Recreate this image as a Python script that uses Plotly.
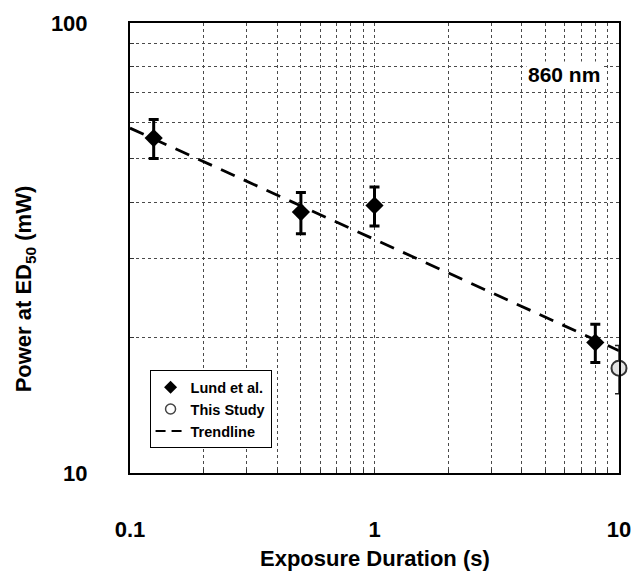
import plotly.graph_objects as go

# Data
lund_t = [0.125, 0.5, 1.0, 8.0]
lund_p = [55.5, 38.0, 39.3, 19.5]
lund_err = [5.5, 4.0, 3.9, 1.9]

study_t = [10.0]
study_p = [17.1]
study_err = [2.1]

trend_t = [0.1, 10.0]
trend_p = [58.4, 18.7]

x_tickvals = [0.1, 0.2, 0.3, 0.4, 0.5, 0.6, 0.7, 0.8, 0.9, 1, 2, 3, 4, 5, 6, 7, 8, 9, 10]
x_ticktext = ["0.1", "", "", "", "", "", "", "", "", "1", "", "", "", "", "", "", "", "", "10"]
y_tickvals = [10, 20, 30, 40, 50, 60, 70, 80, 90, 100]
y_ticktext = ["10", "", "", "", "", "", "", "", "", "100"]

FONT = "Arial, Liberation Sans, sans-serif"

fig = go.Figure()

fig.add_trace(go.Scatter(
    x=trend_t, y=trend_p, mode="lines",
    line=dict(color="black", width=2.8, dash="15px,10px"),
    showlegend=False, hoverinfo="skip"))

fig.add_trace(go.Scatter(
    x=lund_t, y=lund_p, mode="markers",
    marker=dict(symbol="diamond", size=14, color="black"),
    error_y=dict(type="data", array=lund_err, visible=True,
                 color="black", thickness=3, width=5),
    showlegend=False))

fig.add_trace(go.Scatter(
    x=study_t, y=study_p, mode="markers",
    marker=dict(symbol="circle", size=15, color="#e4e4e4",
                line=dict(color="#333333", width=2)),
    error_y=dict(type="data", array=study_err, visible=True,
                 color="#222222", thickness=1.5, width=4),
    showlegend=False, cliponaxis=False))

# legend entries
fig.add_trace(go.Scatter(x=[None], y=[None], mode="markers", name="Lund et al.",
                         marker=dict(symbol="diamond", size=10, color="black")))
fig.add_trace(go.Scatter(x=[None], y=[None], mode="markers", name="This Study",
                         marker=dict(symbol="circle-open", size=10, color="#444444",
                                     line=dict(width=1.5))))
fig.add_trace(go.Scatter(x=[None], y=[None], mode="lines", name="Trendline",
                         line=dict(color="black", width=2, dash="10px,6px")))

grid_kw = dict(showgrid=True, gridcolor="#4a4a4a", gridwidth=1, griddash="3px,3px",
               showline=True, linecolor="black", linewidth=2, mirror=True,
               ticks="inside", ticklen=4, tickcolor="#333333", zeroline=False)

fig.update_xaxes(type="log", range=[-1, 1], tickvals=x_tickvals, ticktext=x_ticktext,
                 tickfont=dict(family=FONT, size=22, color="black", weight="bold"),
                 ticklabelstandoff=36, **grid_kw)
fig.update_yaxes(type="log", range=[1, 2], tickvals=y_tickvals, ticktext=y_ticktext,
                 tickfont=dict(family=FONT, size=22, color="black", weight="bold"),
                 ticklabelstandoff=36, **grid_kw)

# axis titles
fig.add_annotation(x=0.5, y=-0.19, xref="paper", yref="paper", xanchor="center",
                   yanchor="middle", text="Exposure Duration (s)", showarrow=False,
                   font=dict(family=FONT, size=22, color="black", weight="bold"))
fig.add_annotation(x=-0.215, y=0.41, xref="paper", yref="paper", xanchor="center",
                   yanchor="middle", text="Power at ED<sub>50</sub> (mW)", showarrow=False,
                   textangle=-90,
                   font=dict(family=FONT, size=22, color="black", weight="bold"))

fig.add_annotation(x=0.965, y=0.885, xref="paper", yref="paper", xanchor="right",
                   yanchor="middle", text="860 nm", showarrow=False,
                   bgcolor="white",
                   font=dict(family=FONT, size=21, color="black", weight="bold"))

fig.update_layout(
    width=636, height=572,
    margin=dict(l=130, r=17, t=23, b=99, autoexpand=False),
    plot_bgcolor="white", paper_bgcolor="white",
    legend=dict(x=0.04, y=0.055, xanchor="left", yanchor="bottom",
                bgcolor="white", bordercolor="black", borderwidth=1,
                font=dict(family=FONT, size=14.5, color="black", weight="bold"),
                itemwidth=30, tracegroupgap=0),
    showlegend=True,
)

fig.write_html("out.html")
